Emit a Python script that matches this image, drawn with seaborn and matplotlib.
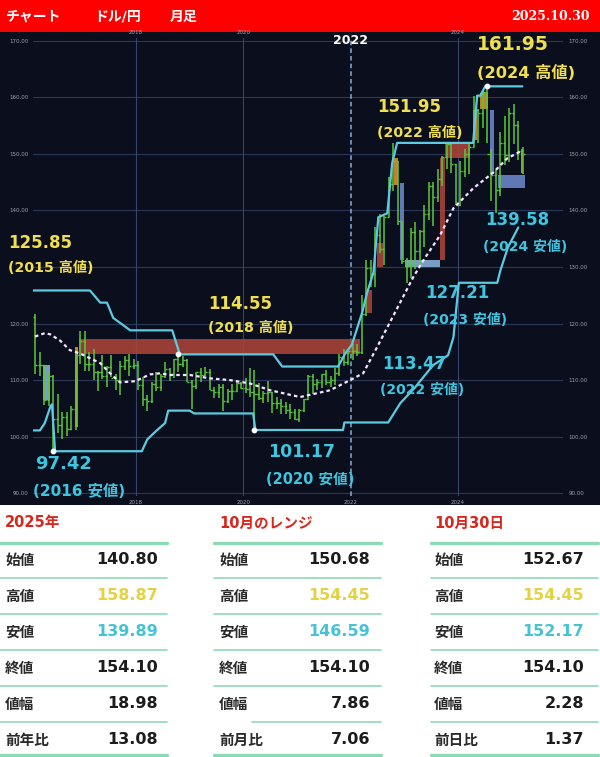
import numpy as np
import pandas as pd
import matplotlib
matplotlib.use("Agg")
import matplotlib.pyplot as plt
import seaborn as sns
from matplotlib.patches import Rectangle
from matplotlib.lines import Line2D

# monthly USD/JPY bars, Feb 2016 .. Mar 2025
months = pd.period_range("2016-02", "2025-03", freq="M")
opens = [121.1, 112.7, 112.6, 106.5, 110.7, 103.2, 102.1, 103.4, 101.3, 104.8, 114.5,
         117.0, 112.8, 112.8, 111.4, 111.5, 110.8, 112.4, 110.3, 110.0, 112.5, 113.6, 112.5,
         112.7, 109.2, 106.7, 106.3, 109.3, 108.8, 110.7, 111.9, 111.0, 113.7, 112.9, 113.5,
         109.7, 108.9, 111.4, 110.9, 111.4, 108.3, 107.9, 108.7, 106.3, 108.1, 108.0, 109.5,
         108.6, 108.4, 107.9, 107.5, 106.9, 107.8, 107.9, 105.9, 105.9, 105.5, 104.7, 104.3,
         103.2, 104.7, 106.6, 110.7, 109.3, 109.6, 111.1, 109.7, 110.0, 111.3, 114.0, 113.2,
         115.1, 115.1, 115.0, 121.7, 129.8, 128.7, 135.7, 133.2, 138.9, 144.7, 148.7, 138.1,
         131.1, 130.1, 136.2, 132.9, 136.3, 139.3, 144.3, 142.3, 145.5, 149.4, 151.7, 148.2,
         141.0, 147.0, 150.0, 151.3, 157.8, 157.3, 160.9, 150.0, 146.2, 143.6, 152.0, 149.8,
         157.2, 155.2, 150.6]
highs = [121.7, 114.9, 112.6, 111.4, 110.9, 107.5, 104.3, 104.3, 105.5, 114.8, 118.7,
         118.6, 114.9, 115.5, 111.6, 114.4, 112.5, 114.5, 111.1, 113.3, 114.3, 114.7, 113.8,
         113.4, 110.5, 107.3, 109.6, 111.4, 111.0, 113.2, 112.2, 113.7, 114.55, 114.2, 113.8,
         110.0, 111.5, 112.1, 112.4, 112.0, 108.8, 109.3, 109.3, 108.5, 109.3, 109.7, 109.7,
         110.3, 112.2, 111.7, 109.4, 108.1, 109.9, 107.9, 107.0, 106.6, 106.1, 105.7, 104.8,
         104.9, 106.7, 110.9, 111.0, 110.2, 111.1, 111.7, 110.8, 112.1, 114.7, 115.5, 115.2,
         116.35, 116.3, 125.1, 131.3, 131.3, 137.0, 139.4, 139.0, 145.9, 151.95, 148.8, 138.2,
         131.6, 136.9, 137.9, 136.6, 140.9, 145.1, 145.1, 147.4, 149.7, 151.7, 151.9, 148.2,
         148.8, 150.9, 151.9, 160.2, 158.0, 161.3, 161.95, 150.9, 147.2, 153.9, 156.7, 158.1,
         158.87, 155.9, 151.3]
lows = [111.0, 110.7, 105.6, 105.5, 97.42, 100.7, 99.5, 100.1, 101.2, 101.2, 112.9,
        111.6, 111.6, 110.1, 108.1, 110.2, 108.8, 110.6, 108.3, 107.3, 111.7, 110.8, 111.9,
        108.3, 105.5, 104.6, 105.9, 108.1, 108.1, 110.3, 109.8, 110.4, 111.4, 112.3, 109.6,
        104.9, 108.5, 109.7, 110.8, 108.3, 106.8, 106.8, 104.5, 105.9, 106.5, 107.9, 108.4,
        107.7, 107.0, 101.17, 106.4, 106.0, 106.1, 104.2, 104.9, 104.0, 104.0, 103.2, 102.9,
        102.6, 104.4, 106.4, 107.5, 108.3, 108.6, 109.1, 108.7, 109.1, 110.8, 112.5, 112.6,
        113.47, 114.2, 114.6, 121.3, 126.4, 126.4, 132.5, 130.4, 138.8, 143.5, 137.5, 130.6,
        127.21, 128.1, 129.6, 130.6, 133.5, 138.4, 137.2, 141.5, 144.4, 147.3, 146.7, 141.0,
        140.8, 145.9, 146.5, 151.2, 151.9, 154.6, 151.9, 141.7, 139.58, 142.6, 148.0, 148.6,
        151.7, 148.9, 146.5]
closes = [112.7, 112.6, 106.5, 110.7, 103.2, 102.1, 103.4, 101.3, 104.8, 114.5, 117.0,
          112.8, 112.8, 111.4, 111.5, 110.8, 112.4, 110.3, 110.0, 112.5, 113.6, 112.5, 112.7,
          109.2, 106.7, 106.3, 109.3, 108.8, 110.7, 111.9, 111.0, 113.7, 112.9, 113.5, 109.7,
          108.9, 111.4, 110.9, 111.4, 108.3, 107.9, 108.7, 106.3, 108.1, 108.0, 109.5, 108.6,
          108.4, 107.9, 107.5, 106.9, 107.8, 107.9, 105.9, 105.9, 105.5, 104.7, 104.3, 103.2,
          104.7, 106.6, 110.7, 109.3, 109.6, 111.1, 109.7, 110.0, 111.3, 114.0, 113.2, 115.1,
          115.1, 115.0, 121.7, 129.8, 128.7, 135.7, 133.2, 138.9, 144.7, 148.7, 138.1, 131.1,
          130.1, 136.2, 132.9, 136.3, 139.3, 144.3, 142.3, 145.5, 149.4, 151.7, 148.2, 141.0,
          147.0, 150.0, 151.3, 157.8, 157.3, 160.9, 150.0, 146.2, 143.6, 152.0, 149.8, 157.2,
          155.2, 150.6, 149.9]

# moving average (dotted), months since Jan 2016
ma_pos = [1.4, 3.6, 4.8, 7.0, 9.2, 11.5, 16.0, 18.2, 20.4, 23.8, 27.1, 29.4, 31.6, 36.1,
          40.6, 45.0, 49.5, 54.0, 60.7, 67.4, 71.9, 74.8, 77.9, 83.0, 86.0, 88.7, 92.0,
          95.0, 99.4, 103.9, 107.0, 110.4]
ma_val = [117.7, 118.3, 118.1, 117.0, 115.3, 114.7, 113.0, 111.2, 109.6, 109.8, 111.0,
          111.2, 110.9, 110.9, 110.3, 110.0, 109.4, 108.2, 107.0, 108.2, 110.0, 111.2,
          115.8, 123.6, 128.2, 131.7, 135.6, 140.4, 143.9, 146.7, 149.2, 150.6]

# upper / lower channel
up_pos = [1.0, 13.7, 16.0, 17.5, 18.9, 22.7, 32.1, 33.8, 54.7, 56.7, 69.2, 70.8, 72.3,
          74.6, 75.7, 77.1, 78.2, 80.2, 81.3, 82.4, 99.4, 100.3, 101.0, 102.1, 110.4]
up_val = [125.85, 125.85, 123.7, 123.7, 121.0, 118.8, 118.8, 114.55, 114.55, 112.4, 112.4,
          114.7, 116.3, 122.0, 125.5, 129.0, 138.8, 139.5, 148.4, 151.95, 151.95, 160.3,
          160.3, 161.95, 161.95]
lo_pos = [1.0, 2.5, 3.6, 4.8, 5.2, 5.9, 25.3, 26.5, 28.5, 30.5, 31.2, 36.0, 37.0, 50.2,
          50.7, 70.3, 70.6, 80.4, 83.1, 86.4, 90.4, 93.8, 95.0, 96.2, 104.8, 105.5, 107.2,
          109.5]
lo_val = [101.1, 101.1, 102.4, 105.2, 105.7, 97.42, 97.42, 99.5, 101.0, 102.4, 104.6,
          104.6, 104.1, 104.1, 101.17, 101.17, 102.5, 102.5, 105.9, 108.7, 112.6, 114.4,
          117.6, 127.21, 127.21, 129.4, 133.5, 137.0]

# coloured boxes: start, end (months), low, high, kind
zones = [(3.2, 4.8, 106.4, 112.6, "lightblue"), (10.4, 11.0, 101.7, 115.8, "orange"),
         (11.3, 74.1, 114.55, 117.2, "red"), (75.5, 76.8, 121.8, 125.9, "red"),
         (78.0, 79.2, 130.0, 134.2, "red"), (81.8, 82.6, 144.5, 149.3, "orange"),
         (83.1, 84.0, 131.2, 144.8, "blue"), (84.2, 92.0, 130.0, 131.3, "lightblue"),
         (92.0, 93.1, 131.2, 149.3, "red"), (93.1, 98.7, 149.3, 152.0, "red"),
         (99.4, 100.3, 152.4, 157.7, "orange"), (101.0, 102.8, 158.0, 160.7, "orange"),
         (103.2, 104.0, 146.5, 157.7, "blue"), (105.0, 111.0, 143.9, 146.2, "blue"),
         (110.2, 110.6, 146.7, 150.9, "orange")]

extreme_pos = [5.5, 33.5, 50.5, 102.5]
extreme_val = [97.42, 114.55, 101.17, 161.95]

high_notes = [("125.85", "(2015 高値)"), ("114.55", "(2018 高値)"),
              ("151.95", "(2022 高値)"), ("161.95", "(2024 高値)")]
low_notes = [("97.42", "(2016 安値)"), ("101.17", "(2020 安値)"), ("113.47", "(2022 安値)"),
             ("127.21", "(2023 安値)"), ("139.58", "(2024 安値)")]

year_ticks = [24, 48, 72, 96]
year_labels = ["2018", "2020", "2022", "2024"]
price_ticks = [90, 100, 110, 120, 130, 140, 150, 160, 170]

table_titles = ["2025年", "10月のレンジ", "10月30日"]
table_rows = [["始値", "高値", "安値", "終値", "値幅", "前年比"],
              ["始値", "高値", "安値", "終値", "値幅", "前月比"],
              ["始値", "高値", "安値", "終値", "値幅", "前日比"]]
table_values = [["140.80", "158.87", "139.89", "154.10", "18.98", "13.08"],
                ["150.68", "154.45", "146.59", "154.10", "7.86", "7.06"],
                ["152.67", "154.45", "152.17", "154.10", "2.28", "1.37"]]

# ---------------------------------------------------------------------------
sns.set_theme(style="dark")
plt.rcParams["font.family"] = ["DejaVu Sans", "Noto Sans CJK JP"]

BG = "#0b0e1c"
GREEN = "#5cc83c"
CYAN = "#5ccbe0"
YELLOW = "#f0df4e"
TXT_CYAN = "#3ec6e0"
zone_colors = {"red": "#a8433a", "orange": "#d8902a", "blue": "#6a85c8", "lightblue": "#86aed6"}

df = pd.DataFrame({"pos": [(m.year - 2016) * 12 + m.month - 1 + 0.5 for m in months],
                   "open": opens, "high": highs, "low": lows, "close": closes})

fig = plt.figure(figsize=(6, 7.57), dpi=100)
fig.patch.set_facecolor("white")

# background / layout layer in pixel units
bg = fig.add_axes([0, 0, 1, 1], zorder=0)
bg.set_xlim(0, 600)
bg.set_ylim(757, 0)
bg.axis("off")
bg.add_patch(Rectangle((0, 0), 600, 32, color="#ff0000", lw=0))
bg.add_patch(Rectangle((0, 32), 600, 473, color=BG, lw=0))

hdr = dict(color="white", fontweight="bold", fontsize=10, va="center")
bg.text(6, 17, "チャート", **hdr)
bg.text(94, 17, "ドル/円", **hdr)
bg.text(170, 17, "月足", **hdr)
bg.text(590, 17, "2025.10.30", ha="right", va="center", color="white",
        fontweight="bold", fontsize=9, family="DejaVu Serif")

# ---- chart ----
ax = fig.add_axes([33 / 600, (757 - 496) / 757, 530 / 600, 458 / 757], zorder=1)
ax.set_facecolor(BG)
ax.set_xlim(0.96, 119.5)
ax.set_ylim(89.5, 170.5)
for s in ax.spines.values():
    s.set_visible(False)

for v in price_ticks:
    ax.axhline(v, color="#2c3858", lw=0.8, zorder=1)
for t in [24, 48, 96]:
    ax.axvline(t, color="#34446a", lw=0.8, zorder=1)
ax.axvline(72, color="#7fb0e0", lw=1.1, ls=(0, (3, 2)), zorder=1)

for x0, x1, lo, hi, kind in zones:
    ax.add_patch(Rectangle((x0, lo), x1 - x0, hi - lo, color=zone_colors[kind],
                           lw=0, alpha=0.9, zorder=2))

ax.vlines(df["pos"], df["low"], df["high"], color=GREEN, lw=1.1, zorder=3)
ax.hlines(df["open"], df["pos"] - 0.45, df["pos"], color=GREEN, lw=1.0, zorder=3)
ax.hlines(df["close"], df["pos"], df["pos"] + 0.45, color=GREEN, lw=1.0, zorder=3)

sns.lineplot(x=up_pos, y=up_val, ax=ax, estimator=None, sort=False, color=CYAN,
             lw=1.6, zorder=4, legend=False)
sns.lineplot(x=lo_pos, y=lo_val, ax=ax, estimator=None, sort=False, color=CYAN,
             lw=1.6, zorder=4, legend=False)
sns.lineplot(x=ma_pos, y=ma_val, ax=ax, estimator=None, sort=False, color="#f4e4ff",
             lw=1.6, ls=(0, (1.6, 1.4)), zorder=5, legend=False)
ax.scatter(extreme_pos, extreme_val, s=10, color="white", zorder=6)

# the 130 label on the left sits under the "(2015 高値)" note in the original
left_labels = ["" if v == 130 else f"{v:.2f}" for v in price_ticks]
ax.set_xticks(year_ticks, labels=year_labels)
ax.set_yticks(price_ticks, labels=left_labels)
ax.tick_params(axis="both", length=0, labelsize=4, labelcolor="#9aa0b4", pad=3)
ax.set_xlabel("")
ax.set_ylabel("")
right = ax.secondary_yaxis("right")
right.set_yticks(price_ticks, labels=[f"{v:.2f}" for v in price_ticks])
right.tick_params(length=0, labelsize=4, labelcolor="#9aa0b4", pad=4)
top = ax.secondary_xaxis("top")
top.set_xticks([24, 48, 96], labels=["2018", "2020", "2024"])
top.tick_params(length=0, labelsize=4, labelcolor="#9aa0b4", pad=2)
for sec in (right, top):
    for s in sec.spines.values():
        s.set_visible(False)

# ---- overlay text (pixel units) ----
ov = fig.add_axes([0, 0, 1, 1], zorder=2)
ov.set_xlim(0, 600)
ov.set_ylim(757, 0)
ov.axis("off")
ov.patch.set_alpha(0)

ov.text(351, 41, "2022", ha="center", va="center", color="white",
        fontweight="bold", fontsize=9)

hi_xy = [(8, 243, 268, 12), (208, 304, 328, 12), (377, 107, 133, 12), (477, 44, 73, 13.5)]
for (num, sub), (x, y1, y2, fs) in zip(high_notes, hi_xy):
    ov.text(x, y1, num, color=YELLOW, fontweight="bold", fontsize=fs, va="center")
    ov.text(x, y2, sub, color=YELLOW, fontweight="bold", fontsize=fs - 1.8, va="center")

lo_xy = [(35, 464, 491, 13), (268, 452, 480, 12.5), (382, 364, 390, 12),
         (425, 293, 320, 12), (485, 220, 247, 12)]
for (num, sub), (x, y1, y2, fs) in zip(low_notes, lo_xy):
    ov.text(x, y1, num, color=TXT_CYAN, fontweight="bold", fontsize=fs, va="center")
    ov.text(x - 2, y2, sub, color=TXT_CYAN, fontweight="bold", fontsize=fs - 2, va="center")

# ---- table ----
LINE = "#8ed9b5"
col_x = [(0, 167), (214, 381), (431, 598)]
label_x = [5, 219, 434]
value_x = [158, 370, 584]
row_y = [560, 596, 632, 668, 704, 740]
sep_y = [578, 614, 650, 686, 722]
val_colors = ["#1c1c1c", "#e3d243", "#45c3d6", "#1c1c1c", "#1c1c1c", "#1c1c1c"]

for c in range(3):
    xa, xb = col_x[c]
    bg.text(label_x[c], 523, table_titles[c], color="#d9261c", fontweight="bold",
            fontsize=10.5, va="center")
    bg.add_line(Line2D([xa, xb], [543, 543], color=LINE, lw=2.4))
    bg.add_line(Line2D([xa, xb], [755, 755], color=LINE, lw=2.4))
    for i, yy in enumerate(sep_y):
        start = 252 if (c == 1 and i == 4) else xa
        bg.add_line(Line2D([start, xb], [yy, yy], color=LINE, lw=1.2))
    for r in range(6):
        bg.text(label_x[c], row_y[r], table_rows[c][r], color="#2a2a2a",
                fontweight="bold", fontsize=10.5, va="center")
        bg.text(value_x[c], row_y[r], table_values[c][r], color=val_colors[r],
                fontweight="bold", fontsize=11.5, va="center", ha="right")

fig.savefig("out.png", dpi=100)
